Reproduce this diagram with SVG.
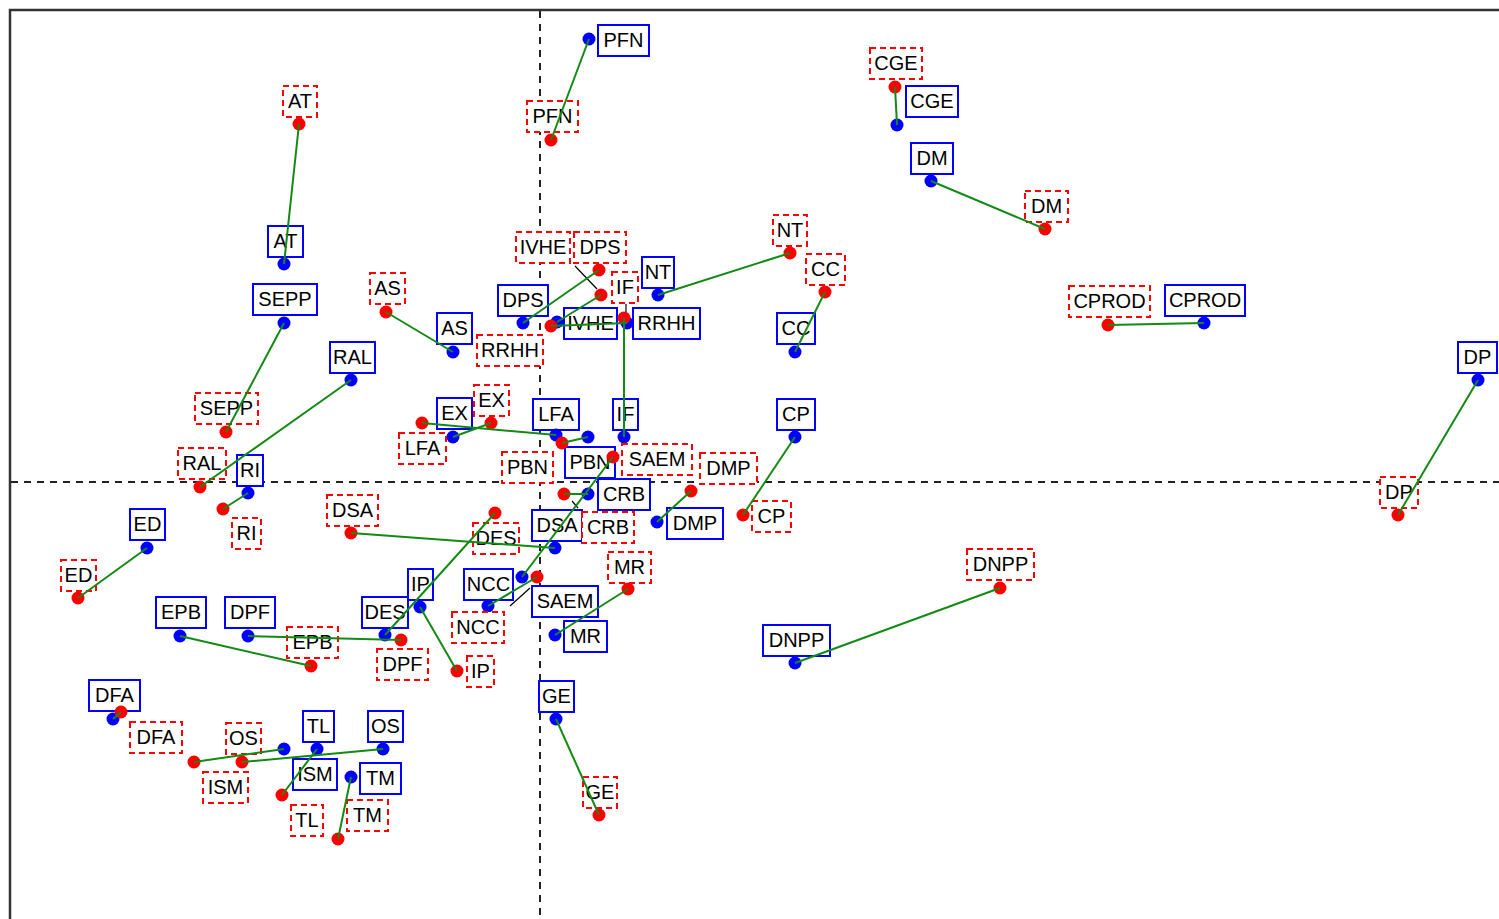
<svg xmlns="http://www.w3.org/2000/svg" width="1499" height="919" viewBox="0 0 1499 919">
<style>
text{font-family:"Liberation Sans",Arial,sans-serif;font-size:20px;text-anchor:middle;fill:#000}
.bl rect{fill:#fff;stroke:#0000ff;stroke-width:2}
.bl circle{fill:#0000ff}
.rl rect{fill:#fff;stroke:#ff0000;stroke-width:2;stroke-dasharray:6 4}
.rl circle{fill:#ff0000}
.conn line{stroke:#138a13;stroke-width:2}
.lead line{stroke:#000;stroke-width:1.2}
.axis{stroke:#222;stroke-width:2;stroke-dasharray:7 6}
</style>
<rect x="0" y="0" width="1499" height="919" fill="#fff"/>
<rect x="10" y="10" width="1500" height="920" fill="none" stroke="#333" stroke-width="2.5"/>
<line class="axis" x1="540" y1="11" x2="540" y2="919"/>
<line class="axis" x1="11" y1="482" x2="1499" y2="482"/>
<g id="blue-nodes">
<g id="b-PFN" class="bl"><rect x="598" y="25" width="51" height="31"/><text x="623.5" y="47">PFN</text><circle cx="589" cy="39" r="6.5"/></g>
<g id="b-AT" class="bl"><rect x="268" y="226" width="35" height="31"/><text x="285.5" y="248">AT</text><circle cx="284" cy="264" r="6.5"/></g>
<g id="b-CGE" class="bl"><rect x="906" y="86" width="52" height="31"/><text x="932" y="108">CGE</text><circle cx="897" cy="125" r="6.5"/></g>
<g id="b-DM" class="bl"><rect x="911" y="143" width="42" height="31"/><text x="932" y="165">DM</text><circle cx="931" cy="181" r="6.5"/></g>
<g id="b-CPROD" class="bl"><rect x="1165" y="285" width="80" height="31"/><text x="1205" y="307">CPROD</text><circle cx="1204" cy="323" r="6.5"/></g>
<g id="b-DP" class="bl"><rect x="1458" y="342" width="39" height="31"/><text x="1477.5" y="364">DP</text><circle cx="1478" cy="380" r="6.5"/></g>
<g id="b-NT" class="bl"><rect x="642" y="257" width="32" height="31"/><text x="658" y="279">NT</text><circle cx="658" cy="295" r="6.5"/></g>
<g id="b-CC" class="bl"><rect x="777" y="313" width="38" height="31"/><text x="796" y="335">CC</text><circle cx="795" cy="352" r="6.5"/></g>
<g id="b-CP" class="bl"><rect x="777" y="399" width="38" height="31"/><text x="796" y="421">CP</text><circle cx="795" cy="437" r="6.5"/></g>
<g id="b-DMP" class="bl"><rect x="667" y="508" width="56" height="31"/><text x="695" y="530">DMP</text><circle cx="657" cy="522" r="6.5"/></g>
<g id="b-DNPP" class="bl"><rect x="763" y="625" width="67" height="31"/><text x="796.5" y="647">DNPP</text><circle cx="795" cy="663" r="6.5"/></g>
<g id="b-GE" class="bl"><rect x="539" y="681" width="35" height="31"/><text x="556.5" y="703">GE</text><circle cx="556" cy="719" r="6.5"/></g>
<g id="b-MR" class="bl"><rect x="564" y="621" width="43" height="31"/><text x="585.5" y="643">MR</text><circle cx="555" cy="635" r="6.5"/></g>
<g id="b-SAEM" class="bl"><rect x="532" y="586" width="66" height="31"/><text x="565" y="608">SAEM</text><circle cx="522" cy="577" r="6.5"/></g>
<g id="b-NCC" class="bl"><rect x="464" y="569" width="49" height="31"/><text x="488.5" y="591">NCC</text><circle cx="488" cy="606" r="6.5"/></g>
<g id="b-IP" class="bl"><rect x="408" y="569" width="25" height="31"/><text x="420.5" y="591">IP</text><circle cx="420" cy="607" r="6.5"/></g>
<g id="b-DES" class="bl"><rect x="362" y="597" width="46" height="31"/><text x="385" y="619">DES</text><circle cx="385" cy="635" r="6.5"/></g>
<g id="b-DSA" class="bl"><rect x="532" y="510" width="50" height="31"/><text x="557" y="532">DSA</text><circle cx="555" cy="548" r="6.5"/></g>
<g id="b-CRB" class="bl"><rect x="598" y="479" width="52" height="31"/><text x="624" y="501">CRB</text><circle cx="588" cy="494" r="6.5"/></g>
<g id="b-PBN" class="bl"><rect x="565" y="447" width="50" height="31"/><text x="590" y="469">PBN</text><circle cx="588" cy="437" r="6.5"/></g>
<g id="b-IF" class="bl"><rect x="613" y="399" width="25" height="31"/><text x="625.5" y="421">IF</text><circle cx="624" cy="437" r="6.5"/></g>
<g id="b-LFA" class="bl"><rect x="533" y="399" width="46" height="31"/><text x="556" y="421">LFA</text><circle cx="556" cy="435" r="6.5"/></g>
<g id="b-EX" class="bl"><rect x="437" y="398" width="35" height="31"/><text x="454.5" y="420">EX</text><circle cx="453" cy="437" r="6.5"/></g>
<g id="b-RRHH" class="bl"><rect x="633" y="308" width="67" height="31"/><text x="666.5" y="330">RRHH</text><circle cx="627" cy="323" r="6.5"/></g>
<g id="b-IVHE" class="bl"><rect x="564" y="308" width="53" height="31"/><text x="590.5" y="330">IVHE</text><circle cx="557" cy="322" r="6.5"/></g>
<g id="b-DPS" class="bl"><rect x="498" y="285" width="50" height="31"/><text x="523" y="307">DPS</text><circle cx="523" cy="323" r="6.5"/></g>
<g id="b-AS" class="bl"><rect x="437" y="313" width="35" height="31"/><text x="454.5" y="335">AS</text><circle cx="453" cy="352" r="6.5"/></g>
<g id="b-RAL" class="bl"><rect x="330" y="342" width="45" height="31"/><text x="352.5" y="364">RAL</text><circle cx="351" cy="380" r="6.5"/></g>
<g id="b-SEPP" class="bl"><rect x="253" y="284" width="64" height="31"/><text x="285" y="306">SEPP</text><circle cx="284" cy="323" r="6.5"/></g>
<g id="b-RI" class="bl"><rect x="237" y="455" width="26" height="31"/><text x="250" y="477">RI</text><circle cx="248" cy="493" r="6.5"/></g>
<g id="b-ED" class="bl"><rect x="130" y="509" width="35" height="31"/><text x="147.5" y="531">ED</text><circle cx="147" cy="548" r="6.5"/></g>
<g id="b-EPB" class="bl"><rect x="156" y="597" width="50" height="31"/><text x="181" y="619">EPB</text><circle cx="180" cy="636" r="6.5"/></g>
<g id="b-DPF" class="bl"><rect x="225" y="597" width="50" height="31"/><text x="250" y="619">DPF</text><circle cx="248" cy="636" r="6.5"/></g>
<g id="b-DFA" class="bl"><rect x="89" y="680" width="51" height="31"/><text x="114.5" y="702">DFA</text><circle cx="113" cy="719" r="6.5"/></g>
<g id="b-OS" class="bl"><rect x="368" y="711" width="35" height="31"/><text x="385.5" y="733">OS</text><circle cx="383" cy="749" r="6.5"/></g>
<g id="b-TL" class="bl"><rect x="303" y="711" width="31" height="31"/><text x="318.5" y="733">TL</text><circle cx="317" cy="749" r="6.5"/></g>
<g id="b-ISM" class="bl"><rect x="293" y="759" width="44" height="31"/><text x="315" y="781">ISM</text><circle cx="284" cy="749" r="6.5"/></g>
<g id="b-TM" class="bl"><rect x="360" y="763" width="41" height="31"/><text x="380.5" y="785">TM</text><circle cx="351" cy="777" r="6.5"/></g>
</g>
<g id="red-nodes">
<g id="r-PFN" class="rl"><rect x="527" y="101" width="51" height="31"/><text x="552.5" y="123">PFN</text><circle cx="551" cy="140" r="6.5"/></g>
<g id="r-AT" class="rl"><rect x="283" y="86" width="34" height="31"/><text x="300" y="108">AT</text><circle cx="299" cy="124" r="6.5"/></g>
<g id="r-CGE" class="rl"><rect x="870" y="48" width="52" height="31"/><text x="896" y="70">CGE</text><circle cx="895" cy="87" r="6.5"/></g>
<g id="r-DM" class="rl"><rect x="1025" y="191" width="43" height="31"/><text x="1046.5" y="213">DM</text><circle cx="1045" cy="229" r="6.5"/></g>
<g id="r-CPROD" class="rl"><rect x="1069" y="286" width="81" height="31"/><text x="1109.5" y="308">CPROD</text><circle cx="1108" cy="325" r="6.5"/></g>
<g id="r-DP" class="rl"><rect x="1380" y="477" width="38" height="31"/><text x="1399" y="499">DP</text><circle cx="1398" cy="515" r="6.5"/></g>
<g id="r-NT" class="rl"><rect x="773" y="215" width="34" height="31"/><text x="790" y="237">NT</text><circle cx="790" cy="253" r="6.5"/></g>
<g id="r-CC" class="rl"><rect x="806" y="254" width="39" height="31"/><text x="825.5" y="276">CC</text><circle cx="825" cy="292" r="6.5"/></g>
<g id="r-CP" class="rl"><rect x="752" y="501" width="39" height="31"/><text x="771.5" y="523">CP</text><circle cx="743" cy="515" r="6.5"/></g>
<g id="r-DMP" class="rl"><rect x="700" y="453" width="57" height="31"/><text x="728.5" y="475">DMP</text><circle cx="691" cy="491" r="6.5"/></g>
<g id="r-DNPP" class="rl"><rect x="967" y="549" width="67" height="31"/><text x="1000.5" y="571">DNPP</text><circle cx="1000" cy="588" r="6.5"/></g>
<g id="r-GE" class="rl"><rect x="583" y="777" width="34" height="31"/><text x="600" y="799">GE</text><circle cx="599" cy="815" r="6.5"/></g>
<g id="r-MR" class="rl"><rect x="608" y="552" width="43" height="31"/><text x="629.5" y="574">MR</text><circle cx="628" cy="589" r="6.5"/></g>
<g id="r-SAEM" class="rl"><rect x="622" y="444" width="70" height="31"/><text x="657" y="466">SAEM</text><circle cx="613" cy="457" r="6.5"/></g>
<g id="r-NCC" class="rl"><rect x="452" y="612" width="52" height="31"/><text x="478" y="634">NCC</text><circle cx="537" cy="577" r="6.5"/></g>
<g id="r-IP" class="rl"><rect x="467" y="656" width="27" height="31"/><text x="480.5" y="678">IP</text><circle cx="457" cy="671" r="6.5"/></g>
<g id="r-DES" class="rl"><rect x="473" y="523" width="46" height="31"/><text x="496" y="545">DES</text><circle cx="495" cy="513" r="6.5"/></g>
<g id="r-DSA" class="rl"><rect x="327" y="495" width="51" height="31"/><text x="352.5" y="517">DSA</text><circle cx="351" cy="533" r="6.5"/></g>
<g id="r-CRB" class="rl"><rect x="582" y="512" width="52" height="31"/><text x="608" y="534">CRB</text><circle cx="564" cy="494" r="6.5"/></g>
<g id="r-PBN" class="rl"><rect x="502" y="452" width="51" height="31"/><text x="527.5" y="474">PBN</text><circle cx="562" cy="443" r="6.5"/></g>
<g id="r-IF" class="rl"><rect x="612" y="272" width="26" height="31"/><text x="625" y="294">IF</text><circle cx="624" cy="318" r="6.5"/></g>
<g id="r-LFA" class="rl"><rect x="399" y="433" width="47" height="31"/><text x="422.5" y="455">LFA</text><circle cx="422" cy="423" r="6.5"/></g>
<g id="r-EX" class="rl"><rect x="474" y="385" width="35" height="31"/><text x="491.5" y="407">EX</text><circle cx="491" cy="423" r="6.5"/></g>
<g id="r-RRHH" class="rl"><rect x="477" y="335" width="66" height="31"/><text x="510" y="357">RRHH</text><circle cx="551" cy="326" r="6.5"/></g>
<g id="r-IVHE" class="rl"><rect x="516" y="232" width="54" height="31"/><text x="543" y="254">IVHE</text><circle cx="601" cy="295" r="6.5"/></g>
<g id="r-DPS" class="rl"><rect x="574" y="232" width="52" height="31"/><text x="600" y="254">DPS</text><circle cx="599" cy="270" r="6.5"/></g>
<g id="r-AS" class="rl"><rect x="370" y="273" width="35" height="31"/><text x="387.5" y="295">AS</text><circle cx="386" cy="312" r="6.5"/></g>
<g id="r-RAL" class="rl"><rect x="178" y="448" width="48" height="31"/><text x="202" y="470">RAL</text><circle cx="200" cy="487" r="6.5"/></g>
<g id="r-SEPP" class="rl"><rect x="195" y="393" width="63" height="31"/><text x="226.5" y="415">SEPP</text><circle cx="226" cy="432" r="6.5"/></g>
<g id="r-RI" class="rl"><rect x="232" y="518" width="29" height="31"/><text x="246.5" y="540">RI</text><circle cx="223" cy="509" r="6.5"/></g>
<g id="r-ED" class="rl"><rect x="61" y="560" width="35" height="31"/><text x="78.5" y="582">ED</text><circle cx="78" cy="598" r="6.5"/></g>
<g id="r-EPB" class="rl"><rect x="287" y="627" width="51" height="31"/><text x="312.5" y="649">EPB</text><circle cx="311" cy="666" r="6.5"/></g>
<g id="r-DPF" class="rl"><rect x="377" y="649" width="51" height="31"/><text x="402.5" y="671">DPF</text><circle cx="401" cy="640" r="6.5"/></g>
<g id="r-DFA" class="rl"><rect x="130" y="722" width="52" height="31"/><text x="156" y="744">DFA</text><circle cx="121" cy="712" r="6.5"/></g>
<g id="r-OS" class="rl"><rect x="226" y="723" width="35" height="31"/><text x="243.5" y="745">OS</text><circle cx="242" cy="762" r="6.5"/></g>
<g id="r-TL" class="rl"><rect x="291" y="805" width="32" height="31"/><text x="307" y="827">TL</text><circle cx="282" cy="795" r="6.5"/></g>
<g id="r-ISM" class="rl"><rect x="203" y="772" width="45" height="31"/><text x="225.5" y="794">ISM</text><circle cx="194" cy="762" r="6.5"/></g>
<g id="r-TM" class="rl"><rect x="347" y="800" width="41" height="31"/><text x="367.5" y="822">TM</text><circle cx="338" cy="839" r="6.5"/></g>
</g>
<g id="leaders" class="lead">
<line x1="575" y1="266" x2="597" y2="289"/>
<line x1="626" y1="304" x2="626" y2="312"/>
<line x1="572" y1="501" x2="578" y2="508"/>
<line x1="510" y1="606" x2="530" y2="588"/>
</g>
<g id="connectors" class="conn">
<line x1="589" y1="39" x2="551" y2="140"/>
<line x1="284" y1="264" x2="299" y2="124"/>
<line x1="897" y1="125" x2="895" y2="87"/>
<line x1="931" y1="181" x2="1045" y2="229"/>
<line x1="1204" y1="323" x2="1108" y2="325"/>
<line x1="1478" y1="380" x2="1398" y2="515"/>
<line x1="658" y1="295" x2="790" y2="253"/>
<line x1="795" y1="352" x2="825" y2="292"/>
<line x1="795" y1="437" x2="743" y2="515"/>
<line x1="657" y1="522" x2="691" y2="491"/>
<line x1="795" y1="663" x2="1000" y2="588"/>
<line x1="556" y1="719" x2="599" y2="815"/>
<line x1="555" y1="635" x2="628" y2="589"/>
<line x1="522" y1="577" x2="613" y2="457"/>
<line x1="488" y1="606" x2="537" y2="577"/>
<line x1="420" y1="607" x2="457" y2="671"/>
<line x1="385" y1="635" x2="495" y2="513"/>
<line x1="555" y1="548" x2="351" y2="533"/>
<line x1="588" y1="494" x2="564" y2="494"/>
<line x1="588" y1="437" x2="562" y2="443"/>
<line x1="624" y1="437" x2="624" y2="318"/>
<line x1="556" y1="435" x2="422" y2="423"/>
<line x1="453" y1="437" x2="491" y2="423"/>
<line x1="627" y1="323" x2="551" y2="326"/>
<line x1="557" y1="322" x2="601" y2="295"/>
<line x1="523" y1="323" x2="599" y2="270"/>
<line x1="453" y1="352" x2="386" y2="312"/>
<line x1="351" y1="380" x2="200" y2="487"/>
<line x1="284" y1="323" x2="226" y2="432"/>
<line x1="248" y1="493" x2="223" y2="509"/>
<line x1="147" y1="548" x2="78" y2="598"/>
<line x1="180" y1="636" x2="311" y2="666"/>
<line x1="248" y1="636" x2="401" y2="640"/>
<line x1="113" y1="719" x2="121" y2="712"/>
<line x1="383" y1="749" x2="242" y2="762"/>
<line x1="317" y1="749" x2="282" y2="795"/>
<line x1="284" y1="749" x2="194" y2="762"/>
<line x1="351" y1="777" x2="338" y2="839"/>
</g>
</svg>
